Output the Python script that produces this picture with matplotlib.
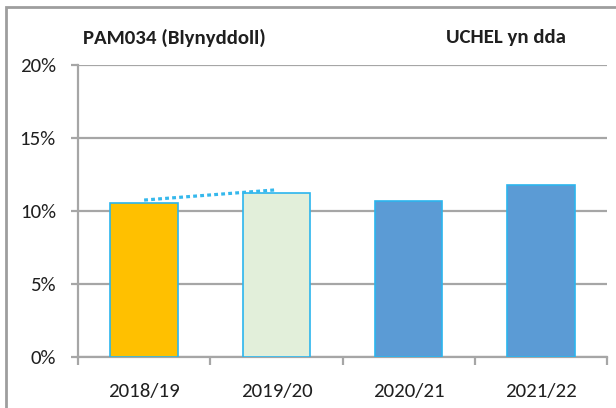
import matplotlib
matplotlib.use("Agg")
import matplotlib.pyplot as plt
from matplotlib.patches import Rectangle
from matplotlib.ticker import FixedLocator, FuncFormatter

categories = ["2018/19", "2019/20", "2020/21", "2021/22"]
values = [10.55, 11.25, 10.7, 11.8]
trend_x = [0, 1]
trend_y = [10.75, 11.45]
yticks = [0, 5, 10, 15, 20]
title_left = "PAM034 (Blynyddoll)"
title_right = "UCHEL yn dda"

bar_colors = ["#FFC000", "#E2EFDA", "#5B9BD5", "#5B9BD5"]
edge = "#2BB5EE"
grid_c = "#A6A6A6"
txt_c = "#1F1F1F"
plt.rcParams["font.family"] = ["Carlito", "Liberation Sans", "DejaVu Sans"]

W, H = 616, 408
fig = plt.figure(figsize=(W / 100, H / 100), dpi=100)
fig.patch.set_facecolor("white")

x0, x1 = 78, 607
y0, y1 = 357, 65
ax = fig.add_axes([x0 / W, 1 - y0 / H, (x1 - x0) / W, (y0 - y1) / H])

ax.bar(range(len(categories)), values, width=0.51, color=bar_colors,
       edgecolor=edge, linewidth=1.2, zorder=3)
ax.plot(trend_x, trend_y, color="#35B8EC", linewidth=2.3,
        linestyle=(0, (1.2, 1.0)), zorder=4, solid_capstyle="butt")

ax.set_xlim(-0.5, len(categories) - 0.5)
ax.set_ylim(0, 20)
ax.set_yticks(yticks)
ax.yaxis.set_major_formatter(FuncFormatter(lambda v, p: f"{int(v)}%"))
ax.set_xticks(range(len(categories)))
ax.set_xticklabels(categories)
ax.xaxis.set_minor_locator(FixedLocator([i - 0.5 for i in range(len(categories) + 1)]))

ax.grid(axis="y", color=grid_c, linewidth=1.6, zorder=0)
ax.set_axisbelow(True)
for s in ["top", "right"]:
    ax.spines[s].set_visible(False)
ax.spines["left"].set_color(grid_c)
ax.spines["left"].set_linewidth(1.6)
ax.spines["bottom"].set_color(grid_c)
ax.spines["bottom"].set_linewidth(1.6)

ax.tick_params(axis="y", length=5, width=1.6, color=grid_c, labelsize=15,
               labelcolor=txt_c, pad=11)
ax.tick_params(axis="x", which="major", length=0, labelsize=15,
               labelcolor=txt_c, pad=19)
ax.tick_params(axis="x", which="minor", length=6, width=1.6, color=grid_c)

fig.text(83 / W, 1 - 38 / H, title_left, fontsize=15, fontweight="bold",
         color=txt_c, ha="left", va="center")
fig.text(446 / W, 1 - 38 / H, title_right, fontsize=15, fontweight="bold",
         color=txt_c, ha="left", va="center")

border = Rectangle((6 / W, -0.05), 1.1, 1 - 7 / H + 0.05, transform=fig.transFigure,
                   fill=False, edgecolor="#9E9E9E", linewidth=2.0)
fig.patches.append(border)

fig.savefig("out.png", dpi=100, facecolor="white")
